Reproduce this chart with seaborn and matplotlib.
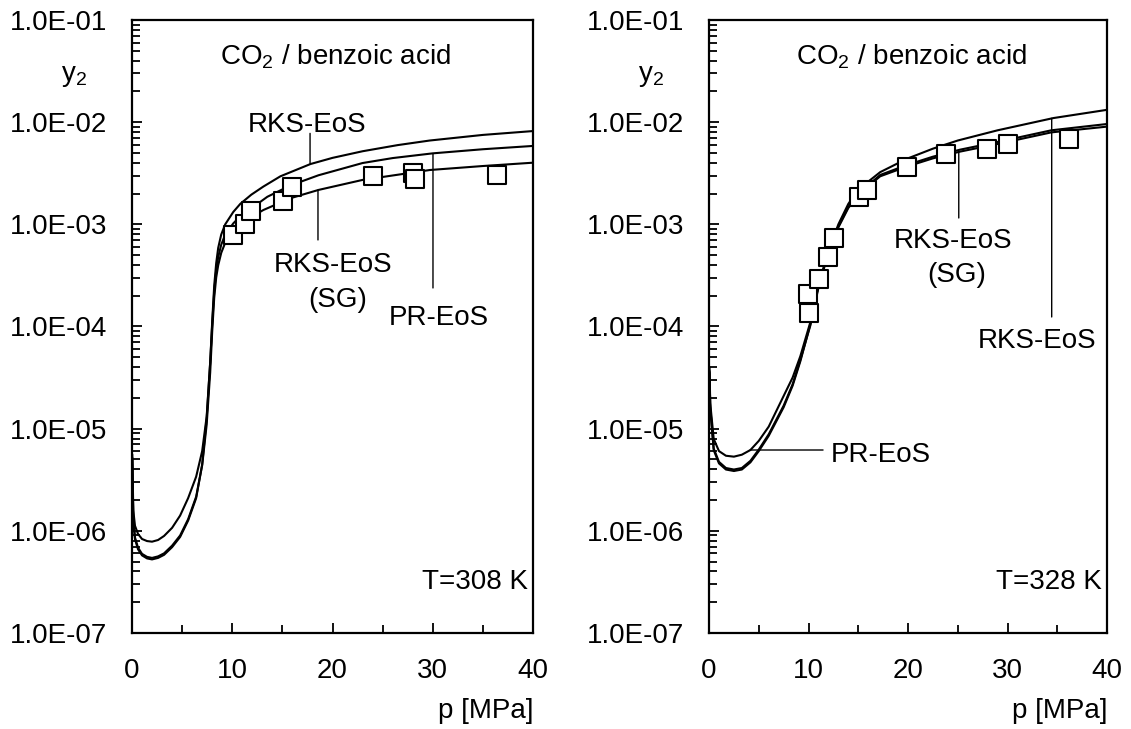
import numpy as np
import pandas as pd
import matplotlib
matplotlib.use("Agg")
import matplotlib.pyplot as plt
import seaborn as sns
from matplotlib.ticker import FuncFormatter, MultipleLocator, LogLocator, NullFormatter

# ---- T = 308 K ----
p_rks_308 = [0.03, 0.13, 0.3, 0.6, 1.0, 1.5, 2.0, 2.6, 3.2, 4.0, 4.8, 5.6, 6.4, 7.0, 7.45, 7.8, 8.0,
             8.2, 8.4, 8.6, 8.9, 9.3, 10.1, 10.8, 11.9, 13.1, 14.8, 17.8, 20.0, 23.0, 26.5, 29.7,
             35.0, 40.0]
y_rks_308 = [5.0e-6, 1.26e-6, 8.3e-7, 6.6e-7, 5.75e-7, 5.37e-7, 5.25e-7, 5.43e-7, 5.82e-7, 6.92e-7,
             8.71e-7, 1.26e-6, 2.09e-6, 4.47e-6, 1.26e-5, 4.47e-5, 1.12e-4, 2.51e-4, 4.17e-4, 5.89e-4,
             7.94e-4, 1.0e-3, 1.32e-3, 1.585e-3, 1.95e-3, 2.34e-3, 2.95e-3, 3.89e-3, 4.47e-3, 5.19e-3,
             5.96e-3, 6.61e-3, 7.5e-3, 8.18e-3]

p_pr_308 = [0.03, 0.13, 0.3, 0.6, 1.0, 1.5, 2.0, 2.6, 3.2, 4.0, 4.8, 5.6, 6.4, 7.0, 7.45, 7.8, 8.0,
            8.2, 8.4, 8.6, 8.9, 9.3, 10.1, 10.8, 12.1, 13.5, 15.8, 18.6, 23.0, 26.0, 30.0, 35.0, 40.0]
y_pr_308 = [5.6e-6, 1.58e-6, 1.12e-6, 9.33e-7, 8.32e-7, 7.94e-7, 7.83e-7, 8.13e-7, 8.91e-7, 1.07e-6,
            1.41e-6, 2.09e-6, 3.39e-6, 6.03e-6, 1.32e-5, 4.47e-5, 1.05e-4, 2.19e-4, 3.55e-4, 4.79e-4,
            6.31e-4, 7.94e-4, 1.02e-3, 1.20e-3, 1.48e-3, 1.86e-3, 2.40e-3, 3.02e-3, 3.98e-3, 4.45e-3,
            4.95e-3, 5.43e-3, 5.85e-3]

p_sg_308 = [0.03, 0.13, 0.3, 0.6, 1.0, 1.5, 2.0, 2.6, 3.2, 4.0, 4.8, 5.6, 6.4, 7.0, 7.45, 7.8, 8.0,
            8.2, 8.4, 8.6, 8.9, 9.3, 9.8, 10.8, 13.1, 15.8, 18.6, 23.0, 29.7, 35.0, 40.0]
y_sg_308 = [5.2e-6, 1.3e-6, 8.6e-7, 6.85e-7, 5.95e-7, 5.56e-7, 5.43e-7, 5.62e-7, 6.02e-7, 7.16e-7,
            9.0e-7, 1.3e-6, 2.16e-6, 4.37e-6, 1.10e-5, 3.55e-5, 8.91e-5, 1.905e-4, 3.02e-4, 3.98e-4,
            5.25e-4, 6.61e-4, 7.94e-4, 1.02e-3, 1.38e-3, 1.80e-3, 2.17e-3, 2.72e-3, 3.40e-3, 3.72e-3,
            4.01e-3]

p_exp_308 = [10.1, 11.3, 11.9, 15.1, 16.0, 24.0, 28.0, 28.2, 36.4]
y_exp_308 = [7.9e-4, 1.0e-3, 1.36e-3, 1.7e-3, 2.34e-3, 3.0e-3, 3.16e-3, 2.8e-3, 3.04e-3]

# ---- T = 328 K ----
p_rks_328 = [0.05, 0.12, 0.47, 1.0, 1.7, 2.5, 3.3, 4.16, 5.0, 6.0, 7.5, 8.4, 9.18, 10.18, 11.0,
             12.0, 13.0, 14.0, 15.0, 17.2, 19.86, 22.5, 25.0, 29.0, 34.6, 40.0]
y_rks_328 = [3.55e-5, 1.585e-5, 6.17e-6, 4.57e-6, 3.98e-6, 3.85e-6, 3.98e-6, 4.68e-6, 6.03e-6,
             8.51e-6, 1.62e-5, 2.63e-5, 4.57e-5, 1.05e-4, 2.51e-4, 5.50e-4, 1.0e-3, 1.585e-3,
             2.19e-3, 3.24e-3, 4.37e-3, 5.5e-3, 6.61e-3, 8.32e-3, 1.096e-2, 1.32e-2]

p_pr_328 = [0.05, 0.12, 0.47, 1.0, 1.7, 2.5, 3.3, 4.16, 5.0, 6.0, 7.5, 8.4, 9.18, 10.18, 11.0,
            12.0, 13.0, 14.0, 15.0, 17.2, 19.86, 22.5, 25.2, 29.2, 34.4, 40.0]
y_pr_328 = [3.98e-5, 1.78e-5, 7.94e-6, 6.03e-6, 5.43e-6, 5.32e-6, 5.56e-6, 6.18e-6, 7.59e-6,
            1.047e-5, 2.09e-5, 3.16e-5, 5.13e-5, 1.10e-4, 2.51e-4, 5.37e-4, 9.55e-4, 1.48e-3,
            2.0e-3, 3.04e-3, 3.80e-3, 4.59e-3, 5.37e-3, 6.46e-3, 8.32e-3, 9.59e-3]

p_sg_328 = [0.05, 0.12, 0.47, 1.0, 1.7, 2.5, 3.3, 4.16, 5.0, 6.0, 7.5, 8.4, 9.18, 10.18, 11.0,
            12.0, 13.0, 14.0, 15.0, 17.2, 19.86, 22.5, 25.2, 29.2, 34.4, 40.0]
y_sg_328 = [3.67e-5, 1.64e-5, 6.39e-6, 4.73e-6, 4.12e-6, 3.98e-6, 4.12e-6, 4.84e-6, 6.24e-6,
            8.81e-6, 1.68e-5, 2.72e-5, 4.73e-5, 1.02e-4, 2.40e-4, 5.25e-4, 9.33e-4, 1.445e-3,
            1.95e-3, 2.95e-3, 3.67e-3, 4.42e-3, 5.14e-3, 6.17e-3, 7.94e-3, 9.04e-3]

p_exp_328 = [10.08, 9.98, 11.05, 11.97, 12.57, 15.07, 15.9, 19.9, 23.85, 27.95, 30.05, 36.2]
y_exp_328 = [1.35e-4, 2.1e-4, 2.9e-4, 4.75e-4, 7.3e-4, 1.87e-3, 2.17e-3, 3.66e-3, 4.9e-3, 5.4e-3,
             6.1e-3, 6.8e-3]

y_ticks = [1e-7, 1e-6, 1e-5, 1e-4, 1e-3, 1e-2, 1e-1]
x_ticks = [0, 10, 20, 30, 40]

sns.set_theme(style="ticks")
plt.rcParams["font.family"] = ["Liberation Sans", "DejaVu Sans"]
plt.rcParams["mathtext.default"] = "regular"
plt.rcParams["font.size"] = 20
plt.rcParams["text.color"] = "black"
plt.rcParams["axes.labelcolor"] = "black"
plt.rcParams["xtick.color"] = "black"
plt.rcParams["ytick.color"] = "black"

fig = plt.figure(figsize=(11.31, 7.29), dpi=100)
ax1 = fig.add_axes([0.1167, 0.1317, 0.3546, 0.8409])
ax2 = fig.add_axes([0.6269, 0.1317, 0.3519, 0.8409])

panels = [
    (ax1, [(p_rks_308, y_rks_308), (p_pr_308, y_pr_308), (p_sg_308, y_sg_308)],
     (p_exp_308, y_exp_308), "T=308 K"),
    (ax2, [(p_rks_328, y_rks_328), (p_pr_328, y_pr_328), (p_sg_328, y_sg_328)],
     (p_exp_328, y_exp_328), "T=328 K"),
]

for ax, curves, exp, temp in panels:
    for p, y in curves:
        sns.lineplot(x=p, y=y, ax=ax, color="black", linewidth=1.5, estimator=None, sort=False)
    sns.scatterplot(x=exp[0], y=exp[1], ax=ax, marker="s", s=170, facecolor="white",
                    edgecolor="black", linewidth=1.5, zorder=4)
    ax.set_yscale("log")
    ax.set_xlim(0, 40)
    ax.set_ylim(1e-7, 1e-1)
    ax.set_xticks(x_ticks)
    ax.xaxis.set_minor_locator(MultipleLocator(5))
    ax.set_yticks(y_ticks)
    ax.yaxis.set_major_formatter(FuncFormatter(lambda v, _: f"{v:.1E}"))
    ax.yaxis.set_minor_locator(LogLocator(base=10, subs=np.arange(2, 10)))
    ax.yaxis.set_minor_formatter(NullFormatter())
    ax.tick_params(which="both", direction="in", top=False, right=False, width=1.3,
                   labelsize=20, pad=18, colors="black")
    ax.tick_params(which="major", length=7)
    ax.tick_params(which="minor", length=5.5)
    for s in ax.spines.values():
        s.set_linewidth(1.6)
        s.set_color("black")
    ax.set_xlabel("")
    ax.set_ylabel("")
    ax.text(-0.145, 0.909, "y$_2$", transform=ax.transAxes, ha="center", va="center", fontsize=20)
    ax.text(1.0, -0.127, "p [MPa]", transform=ax.transAxes, ha="right", va="center", fontsize=20)
    ax.text(20.3, 10**-1.44, "CO$_2$ / benzoic acid", ha="center", va="baseline", fontsize=20)
    ax.text(34.2, 10**-6.57, temp, ha="center", va="baseline", fontsize=20)

lw_lead = dict(arrowstyle="-", lw=1.0, color="black", shrinkA=0, shrinkB=0)

# left panel labels
ax1.text(17.5, 10**-2.10, "RKS-EoS", ha="center", va="baseline")
ax1.annotate("", xy=(17.76, 10**-2.405), xytext=(17.76, 10**-2.11), arrowprops=lw_lead)
ax1.text(20.05, 10**-3.467, "RKS-EoS", ha="center", va="baseline")
ax1.text(20.5, 10**-3.81, "(SG)", ha="center", va="baseline")
ax1.annotate("", xy=(18.55, 10**-2.664), xytext=(18.55, 10**-3.153), arrowprops=lw_lead)
ax1.text(30.6, 10**-3.985, "PR-EoS", ha="center", va="baseline")
ax1.annotate("", xy=(30.02, 10**-2.31), xytext=(30.02, 10**-3.623), arrowprops=lw_lead)

# right panel labels
ax2.text(24.5, 10**-3.232, "RKS-EoS", ha="center", va="baseline")
ax2.text(24.9, 10**-3.564, "(SG)", ha="center", va="baseline")
ax2.annotate("", xy=(25.1, 10**-2.289), xytext=(25.1, 10**-2.938), arrowprops=lw_lead)
ax2.text(33.0, 10**-4.21, "RKS-EoS", ha="center", va="baseline")
ax2.annotate("", xy=(34.44, 10**-1.963), xytext=(34.44, 10**-3.907), arrowprops=lw_lead)
ax2.text(17.3, 10**-5.326, "PR-EoS", ha="center", va="baseline")
ax2.annotate("", xy=(4.12, 10**-5.209), xytext=(11.46, 10**-5.209), arrowprops=lw_lead)

fig.savefig("out.png", dpi=100, facecolor="white")
plt.close("all")
